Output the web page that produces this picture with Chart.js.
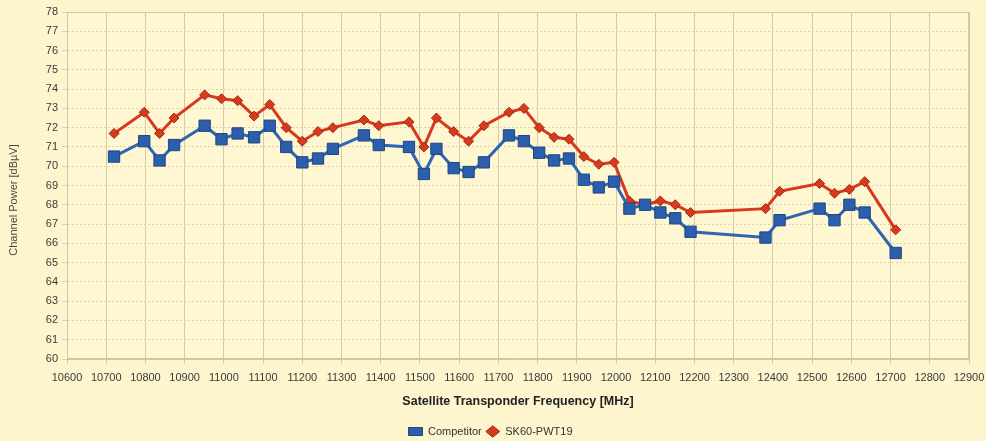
<!DOCTYPE html>
<html>
<head>
<meta charset="utf-8">
<script src="https://cdn.jsdelivr.net/npm/chart.js@4.4.1/dist/chart.umd.min.js"></script>
<style>
  html, body { margin: 0; padding: 0; background: #FDF5CD; }
  #wrap { width: 986px; height: 441px; position: relative; }
</style>
</head>
<body>
<div id="wrap"><canvas id="c" width="986" height="441"></canvas></div>
<script>
const frequencies = [10720,10797,10836,10873,10951,10994,11035,11077,11117,11159,11200,11240,11278,11357,11395,11472,11510,11542,11586,11624,11663,11727,11765,11804,11842,11880,11918,11956,11995,12034,12074,12113,12151,12190,12381,12417,12519,12557,12595,12634,12713];
const competitor = [70.5,71.3,70.3,71.1,72.1,71.4,71.7,71.5,72.1,71.0,70.2,70.4,70.9,71.6,71.1,71.0,69.6,70.9,69.9,69.7,70.2,71.6,71.3,70.7,70.3,70.4,69.3,68.9,69.2,67.8,68.0,67.6,67.3,66.6,66.3,67.2,67.8,67.2,68.0,67.6,65.5];
const sk60 = [71.7,72.8,71.7,72.5,73.7,73.5,73.4,72.6,73.2,72.0,71.3,71.8,72.0,72.4,72.1,72.3,71.0,72.5,71.8,71.3,72.1,72.8,73.0,72.0,71.5,71.4,70.5,70.1,70.2,68.2,68.0,68.2,68.0,67.6,67.8,68.7,69.1,68.6,68.8,69.2,66.7];
const seriesNames = ['Competitor', 'SK60-PWT19'];
const xTitle = 'Satellite Transponder Frequency [MHz]';
const yTitle = 'Channel Power [dBµV]';

const toPoints = (vals) => frequencies.map((f, i) => ({ x: f, y: vals[i] }));

const frame = {
  id: 'frame',
  beforeDraw(chart) {
    const { ctx, chartArea: a } = chart;
    ctx.save();
    ctx.fillStyle = '#FEF7D2';
    ctx.fillRect(a.left, a.top, a.right - a.left, a.bottom - a.top);
    ctx.restore();
  },
  beforeDatasetsDraw(chart) {
    const { ctx, chartArea: a } = chart;
    ctx.save();
    ctx.strokeStyle = '#CFC7A6';
    ctx.lineWidth = 1;
    ctx.strokeRect(a.left + 0.5, a.top + 0.5, a.right - a.left - 1, a.bottom - a.top - 1);
    ctx.restore();
  },
  afterDraw(chart) {
    const { ctx } = chart;
    ctx.save();
    ctx.translate(14, 200);
    ctx.rotate(-Math.PI / 2);
    ctx.fillStyle = '#4A4A4A';
    ctx.font = '11px "Liberation Sans"';
    ctx.textAlign = 'center';
    ctx.textBaseline = 'middle';
    ctx.fillText(yTitle, 0, 0);
    ctx.restore();
  }
};

new Chart(document.getElementById('c'), {
  type: 'line',
  data: {
    datasets: [
      {
        label: seriesNames[0],
        data: toPoints(competitor),
        borderColor: '#2F66B3',
        backgroundColor: '#2B5FAE',
        pointBorderColor: '#1E4680',
        pointBorderWidth: 1,
        borderWidth: 3,
        pointStyle: 'rect',
        pointRadius: 8,
        tension: 0
      },
      {
        label: seriesNames[1],
        data: toPoints(sk60),
        borderColor: '#D8381E',
        backgroundColor: '#D83A1E',
        pointBorderColor: '#9E2A14',
        pointBorderWidth: 1,
        borderWidth: 3,
        pointStyle: 'rectRot',
        pointRadius: 5,
        tension: 0
      }
    ]
  },
  plugins: [frame],
  options: {
    responsive: false,
    animation: false,
    layout: { padding: { left: 12, right: 17, top: 12, bottom: -6 } },
    plugins: {
      tooltip: { enabled: false },
      legend: {
        position: 'bottom',
        labels: {
          usePointStyle: true,
          pointStyleWidth: 14,
          boxHeight: 8,
          padding: 4,
          color: '#333333',
          font: { family: 'Liberation Sans', size: 11 }
        }
      }
    },
    scales: {
      x: {
        type: 'linear',
        min: 10600,
        max: 12900,
        afterFit(s) { s.height = 63; s.paddingLeft = 0; s.paddingRight = 0; },
        ticks: {
          stepSize: 100,
          autoSkip: false,
          maxRotation: 0,
          padding: 7,
          color: '#3A3A3A',
          font: { family: 'Liberation Sans', size: 11 },
          callback: (v) => String(v)
        },
        grid: { color: '#D3CAA8', lineWidth: 1, tickLength: 5 },
        border: { color: '#CFC7A6' },
        title: {
          display: true,
          text: xTitle,
          color: '#222222',
          font: { family: 'Liberation Sans', size: 12.5, weight: 'bold' },
          padding: { top: 0, bottom: 13 }
        }
      },
      y: {
        min: 60,
        max: 78,
        afterFit(s) { s.width = 55; s.paddingTop = 0; s.paddingBottom = 0; },
        ticks: {
          stepSize: 1,
          autoSkip: false,
          padding: 4,
          color: '#3A3A3A',
          font: { family: 'Liberation Sans', size: 11 }
        },
        grid: { color: '#DCD3B0', lineWidth: 1, tickLength: 5 },
        border: { color: '#CFC7A6', dash: [2, 2] },
        title: { display: false }
      }
    }
  }
});
</script>
</body>
</html>
